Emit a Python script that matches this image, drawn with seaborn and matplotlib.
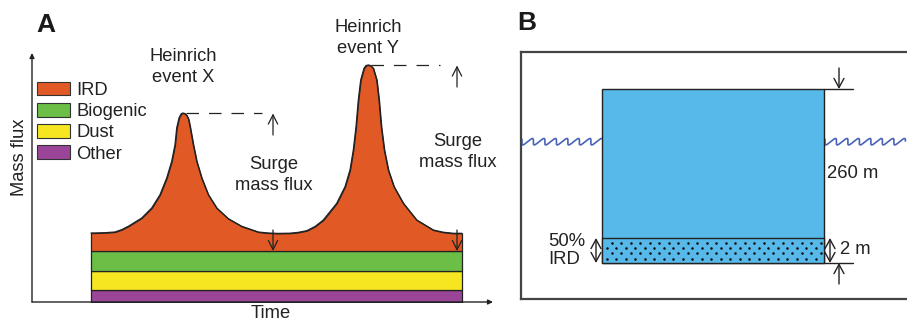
import numpy as np
import matplotlib
matplotlib.use("Agg")
import matplotlib.pyplot as plt
import seaborn as sns
from matplotlib.patches import Rectangle, Patch

# ---------------- data (panel A) ----------------
components = ["IRD", "Biogenic", "Dust", "Other"]
comp_colors = ["#E15A26", "#6BBE46", "#F6E621", "#9B4599"]
other_flux = 12
dust_flux = 19
biogenic_flux = 20
ird_base_flux = 18
time = [59, 63, 73, 83, 90, 96.3, 109.7, 119.7, 128, 134.7, 139.7, 143, 144.7, 147,
        149, 150.7, 152.7, 154.7, 156.5, 158, 161.3, 164.7, 169.7, 176.3, 184.7,
        196.3, 209.7, 226.3, 236, 246, 258, 266, 274.7, 283, 291.3, 304.7, 313, 318,
        321.3, 324, 326.3, 328.7, 332, 334, 336.3, 338.5, 341.3, 344.7, 347, 349.3,
        352.3, 356.3, 362, 371.3, 384.7, 401.3, 411, 421.3, 430]
ird_top = [69, 69, 69.3, 70, 72.5, 75.7, 84, 94, 107.3, 124, 140.7, 157.3, 174, 184,
           188, 189, 188.5, 186.7, 183, 175.7, 157.3, 140.7, 124, 107.3, 94, 83.3,
           75.7, 70, 69, 68.6, 68.8, 69.6, 71.3, 75.5, 82, 98.7, 115.3, 132, 152,
           175.3, 202, 222, 233.7, 236.5, 237, 236.5, 233.7, 222, 202, 175.3, 152,
           132, 115.3, 98.7, 82, 72, 69.8, 68.7, 68.7]
event_labels = ["Heinrich\nevent X", "Heinrich\nevent Y"]
event_time = [151, 336]
event_peak = [189, 237]
surge_label = "Surge\nmass flux"

# ---------------- data (panel B) ----------------
ice_label = "260 m"
layer_label = "2 m"
ird_label = "50%\nIRD"

W, H = 907, 322
sns.set_theme(style="white")
plt.rcParams['font.family'] = ['Liberation Sans', 'DejaVu Sans']
DARK = "#222222"

fig = plt.figure(figsize=(W / 100, H / 100), dpi=100)


def fx(px):
    return px / W


def fy(py):
    return 1 - py / H


# ================= Panel A =================
axA = fig.add_axes([fx(32), fy(302), fx(493) - fx(32), fy(53) - fy(302)])
axA.set_xlim(0, 461)
axA.set_ylim(0, 249)
axA.axis("off")
axA.set_facecolor("none")

t0, t1 = time[0], time[-1]
levels = np.cumsum([0, other_flux, dust_flux, biogenic_flux, ird_base_flux])
band_cols = [comp_colors[3], comp_colors[2], comp_colors[1]]
for i in range(3):
    axA.fill_between([t0, t1], levels[i], levels[i + 1], facecolor=band_cols[i],
                     edgecolor=DARK, lw=0.9, zorder=2)
base = levels[3]
axA.fill_between(time, base, ird_top, facecolor=comp_colors[0], edgecolor=DARK,
                 lw=0.9, zorder=2)
sns.lineplot(x=time, y=ird_top, sort=False, color=DARK, lw=0.9, ax=axA, zorder=3)

# axes with arrows
arrow_ax = dict(arrowstyle='-|>', lw=1.0, color=DARK, mutation_scale=7,
                shrinkA=0, shrinkB=0)
axA.annotate("", xy=(0, 1), xytext=(0, 0), xycoords='axes fraction',
             textcoords='axes fraction', arrowprops=arrow_ax)
axA.annotate("", xy=(1, 0), xytext=(0, 0), xycoords='axes fraction',
             textcoords='axes fraction', arrowprops=arrow_ax)

FS = 13.2
open_arrow = dict(arrowstyle='->,head_length=0.55,head_width=0.28', lw=0.9,
                  color=DARK, shrinkA=0, shrinkB=0)
surge_x = [241, 425]
dash_end = [230, 408]
text_y = [127, 150]
up_start = [167, 215]
label_off = [46, 27]
for k in range(2):
    axA.text(event_time[k], event_peak[k] + label_off[k],
             event_labels[k], ha='center', va='center', fontsize=FS,
             linespacing=1.25, color=DARK)
    axA.plot([event_time[k] + 3, dash_end[k]], [event_peak[k], event_peak[k]],
             color=DARK, lw=0.9, dashes=(10, 8), zorder=3)
    axA.annotate("", xy=(surge_x[k], event_peak[k] - 0.5), xytext=(surge_x[k], up_start[k]),
                 arrowprops=open_arrow)
    axA.annotate("", xy=(surge_x[k], base), xytext=(surge_x[k], base + 21),
                 arrowprops=open_arrow)
    axA.text(surge_x[k] + 0.5, text_y[k], surge_label, ha='center', va='center',
             fontsize=FS, linespacing=1.25, color=DARK)

handles = [Patch(facecolor=c, edgecolor="#333333", lw=0.8) for c in comp_colors]
fig.legend(handles, components, loc='upper left', bbox_to_anchor=(fx(37), fy(82)),
           frameon=False, fontsize=FS, borderpad=0, borderaxespad=0,
           handlelength=1.8, handleheight=0.75, handletextpad=0.35,
           labelspacing=0.22, labelcolor=DARK)

fig.text(fx(20), fy(157), "Mass flux", rotation=90, ha='center', va='center',
         fontsize=FS, color=DARK)
fig.text(fx(271), fy(314), "Time", ha='center', va='center', fontsize=FS, color=DARK)

lab_font = dict(fontsize=19, weight='bold', color="#1a1a1a",
                family=['Liberation Sans Narrow', 'Liberation Sans', 'DejaVu Sans'])
fig.text(fx(36), fy(32), "A", va='baseline', ha='left', **lab_font)
fig.text(fx(517), fy(30), "B", va='baseline', ha='left', **lab_font)

# ================= Panel B =================
axB = fig.add_axes([fx(521), fy(299), 1 - fx(521), fy(52) - fy(299)])
axB.set_xlim(0, 386)
axB.set_ylim(0, 247)
axB.set_xticks([])
axB.set_yticks([])
axB.set_facecolor("none")
for s in ["left", "top", "bottom"]:
    axB.spines[s].set_visible(True)
    axB.spines[s].set_color("#444444")
    axB.spines[s].set_linewidth(1.6)
axB.spines["right"].set_visible(False)

BLUE = "#57B9EA"
x0, x1 = 81, 303
yb, yl, yt = 36, 61, 210
axB.add_patch(Rectangle((x0, yb), x1 - x0, yt - yb, facecolor=BLUE,
                        edgecolor=DARK, lw=1.0, zorder=2))
axB.add_patch(Rectangle((x0, yb), x1 - x0, yl - yb, facecolor=BLUE,
                        edgecolor=DARK, lw=1.0, zorder=3))
# dotted texture
rows = np.linspace(yb + 4.5, yl - 4.5, 4)
for r, yy in enumerate(rows[::-1]):
    start = x0 + 9.7 if r % 2 == 0 else x0 + 4.9
    xs = np.arange(start, x1 - 3, 9.5)
    axB.scatter(xs, np.full_like(xs, yy), s=3.4, color="#111111", lw=0, zorder=4)

# waves (breaking-wave curls)
wave_y = 157.3
period = 11.5
amp = 3.2
for xa, xb in [(0, x0), (x1, 386)]:
    tt = np.linspace(0, (xb - xa) / period * 2 * np.pi, 900)
    wx = xa + tt * period / (2 * np.pi) + 2.0 * np.cos(tt) - 2.0
    wy = wave_y + amp * np.cos(tt)
    m = (wx >= xa) & (wx <= xb)
    axB.plot(wx[m], wy[m], color="#4A63B8", lw=1.2, zorder=1)

# dimension lines and arrows
axB.plot([x1, 332], [yt, yt], color=DARK, lw=1.0)
axB.plot([x1, 332], [yb, yb], color=DARK, lw=1.0)
arr = dict(arrowstyle='->,head_length=0.55,head_width=0.3', lw=1.0, color=DARK,
           shrinkA=0, shrinkB=0)
arr2 = dict(arrowstyle='<->,head_length=0.55,head_width=0.3', lw=1.0, color=DARK,
            shrinkA=0, shrinkB=0)
axB.annotate("", xy=(318, yt), xytext=(318, 231), arrowprops=arr)
axB.annotate("", xy=(318, yb), xytext=(318, 15), arrowprops=arr)
axB.annotate("", xy=(309, yl), xytext=(309, yb), arrowprops=arr2)
axB.annotate("", xy=(75, yl), xytext=(75, yb), arrowprops=arr2)

FSB = 13.3
axB.text(306, 126, ice_label, ha='left', va='center', fontsize=FSB, color=DARK)
axB.text(319, 49, layer_label, ha='left', va='center', fontsize=FSB, color=DARK)
axB.text(27, 48.5, ird_label, ha='left', va='center', fontsize=FSB, color=DARK,
         linespacing=1.0)

fig.savefig("out.png", dpi=100)
